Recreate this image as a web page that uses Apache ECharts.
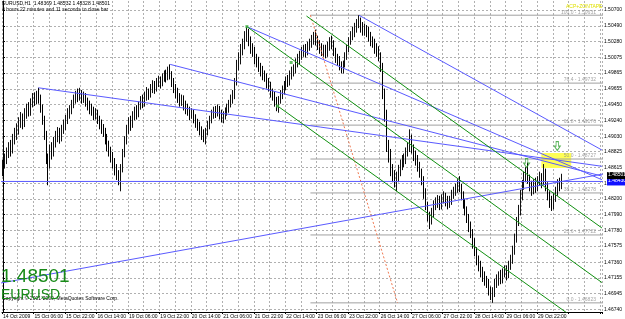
<!DOCTYPE html>
<html><head><meta charset="utf-8">
<script src="https://cdn.jsdelivr.net/npm/echarts@6/dist/echarts.min.js"></script>
<style>html,body{margin:0;padding:0;background:#fff}#c{width:625px;height:319px}</style>
</head><body><div id="c"></div><script>
const timeLabels = ['14 Oct 2009','15 Oct 06:00','15 Oct 22:00','16 Oct 14:00','19 Oct 06:00','19 Oct 22:00','20 Oct 14:00','21 Oct 06:00','21 Oct 22:00','22 Oct 14:00','23 Oct 06:00','23 Oct 22:00','26 Oct 14:00','27 Oct 06:00','27 Oct 22:00','28 Oct 14:00','29 Oct 06:00','29 Oct 22:00'];
const priceTicks = [1.50700,1.50490,1.50280,1.50075,1.49865,1.49655,1.49450,1.49240,1.49030,1.48825,1.48615,1.48405,1.48200,1.47990,1.47780,1.47575,1.47360,1.47155,1.46945,1.46740];
// [open, close, low, high] per H1 bar
const ohlc = [
[1.4858,1.4866,1.4850,1.4872],[1.4866,1.4872,1.4860,1.4880],[1.4872,1.4880,1.4866,1.4888],[1.4880,1.4889,1.4874,1.4895],
[1.4889,1.4884,1.4876,1.4898],[1.4884,1.4899,1.4880,1.4906],[1.4899,1.4906,1.4892,1.4914],[1.4906,1.4912,1.4898,1.4920],
[1.4912,1.4921,1.4905,1.4928],[1.4921,1.4927,1.4914,1.4935],[1.4927,1.4920,1.4912,1.4933],[1.4920,1.4934,1.4915,1.4940],
[1.4934,1.4940,1.4926,1.4946],[1.4940,1.4936,1.4929,1.4948],[1.4936,1.4948,1.4930,1.4953],[1.4948,1.4954,1.4941,1.4960],
[1.4954,1.4950,1.4943,1.4961],[1.4950,1.4958,1.4945,1.4963],[1.4958,1.4952,1.4946,1.4967],[1.4952,1.4940,1.4934,1.4958],
[1.4940,1.4925,1.4918,1.4945],[1.4925,1.4905,1.4898,1.4930],[1.4905,1.4875,1.4866,1.4910],[1.4875,1.4868,1.4838,1.4880],
[1.4868,1.4885,1.4860,1.4892],[1.4885,1.4880,1.4872,1.4895],[1.4880,1.4896,1.4876,1.4902],[1.4896,1.4902,1.4888,1.4910],
[1.4902,1.4908,1.4895,1.4915],[1.4908,1.4900,1.4893,1.4914],[1.4900,1.4912,1.4896,1.4918],[1.4912,1.4918,1.4906,1.4925],
[1.4918,1.4926,1.4911,1.4931],[1.4926,1.4933,1.4919,1.4940],[1.4933,1.4938,1.4926,1.4944],[1.4938,1.4946,1.4932,1.4951],
[1.4946,1.4952,1.4940,1.4958],[1.4952,1.4958,1.4946,1.4963],[1.4958,1.4955,1.4948,1.4966],[1.4955,1.4960,1.4950,1.4967],
[1.4960,1.4953,1.4946,1.4964],[1.4953,1.4956,1.4947,1.4962],[1.4956,1.4949,1.4942,1.4960],[1.4949,1.4944,1.4937,1.4954],
[1.4944,1.4940,1.4932,1.4950],[1.4940,1.4937,1.4930,1.4946],[1.4937,1.4931,1.4924,1.4942],[1.4931,1.4934,1.4925,1.4940],
[1.4934,1.4926,1.4919,1.4938],[1.4926,1.4920,1.4912,1.4930],[1.4920,1.4914,1.4906,1.4925],[1.4914,1.4910,1.4902,1.4919],
[1.4910,1.4900,1.4892,1.4914],[1.4900,1.4891,1.4883,1.4906],[1.4891,1.4884,1.4876,1.4897],[1.4884,1.4876,1.4868,1.4889],
[1.4876,1.4868,1.4860,1.4882],[1.4868,1.4860,1.4851,1.4874],[1.4860,1.4852,1.4845,1.4866],[1.4852,1.4848,1.4838,1.4858],
[1.4848,1.4860,1.4830,1.4866],[1.4860,1.4880,1.4855,1.4886],[1.4880,1.4898,1.4875,1.4903],[1.4898,1.4912,1.4892,1.4918],
[1.4912,1.4922,1.4906,1.4928],[1.4922,1.4918,1.4910,1.4930],[1.4918,1.4930,1.4914,1.4936],[1.4930,1.4936,1.4924,1.4942],
[1.4936,1.4932,1.4925,1.4944],[1.4932,1.4944,1.4928,1.4949],[1.4944,1.4950,1.4938,1.4956],[1.4950,1.4946,1.4940,1.4958],
[1.4946,1.4956,1.4942,1.4962],[1.4956,1.4961,1.4950,1.4968],[1.4961,1.4958,1.4951,1.4966],[1.4958,1.4966,1.4954,1.4972],
[1.4966,1.4970,1.4960,1.4977],[1.4970,1.4966,1.4959,1.4976],[1.4966,1.4974,1.4962,1.4980],[1.4974,1.4977,1.4968,1.4983],
[1.4977,1.4973,1.4966,1.4982],[1.4973,1.4980,1.4969,1.4986],[1.4980,1.4984,1.4975,1.4990],[1.4984,1.4981,1.4974,1.4991],
[1.4981,1.4988,1.4977,1.4995],[1.4988,1.4984,1.4978,1.4998],[1.4984,1.4975,1.4968,1.4989],[1.4975,1.4968,1.4960,1.4980],
[1.4968,1.4962,1.4953,1.4972],[1.4962,1.4955,1.4947,1.4967],[1.4955,1.4950,1.4942,1.4960],[1.4950,1.4952,1.4943,1.4958],
[1.4952,1.4944,1.4937,1.4957],[1.4944,1.4940,1.4932,1.4950],[1.4940,1.4937,1.4930,1.4946],[1.4937,1.4932,1.4924,1.4942],
[1.4932,1.4934,1.4926,1.4940],[1.4934,1.4928,1.4920,1.4938],[1.4928,1.4922,1.4914,1.4932],[1.4922,1.4918,1.4910,1.4926],
[1.4918,1.4912,1.4904,1.4922],[1.4912,1.4906,1.4898,1.4916],[1.4906,1.4903,1.4895,1.4912],[1.4903,1.4910,1.4892,1.4914],
[1.4910,1.4918,1.4904,1.4923],[1.4918,1.4925,1.4912,1.4930],[1.4925,1.4932,1.4920,1.4938],[1.4932,1.4936,1.4926,1.4942],
[1.4936,1.4934,1.4927,1.4943],[1.4934,1.4938,1.4929,1.4945],[1.4938,1.4932,1.4925,1.4943],[1.4932,1.4928,1.4921,1.4938],
[1.4928,1.4930,1.4920,1.4936],[1.4930,1.4936,1.4925,1.4941],[1.4936,1.4940,1.4930,1.4946],[1.4940,1.4946,1.4934,1.4951],
[1.4946,1.4952,1.4941,1.4958],[1.4952,1.4958,1.4946,1.4964],[1.4958,1.4975,1.4952,1.4980],[1.4975,1.4998,1.4970,1.5004],
[1.4998,1.5005,1.4990,1.5014],[1.5005,1.5018,1.4998,1.5025],[1.5018,1.5024,1.5010,1.5032],[1.5024,1.5036,1.5018,1.5042],
[1.5036,1.5040,1.5028,1.5048],[1.5040,1.5030,1.5022,1.5045],[1.5030,1.5022,1.5012,1.5035],[1.5022,1.5016,1.5008,1.5026],
[1.5016,1.5008,1.4998,1.5021],[1.5008,1.5002,1.4994,1.5012],[1.5002,1.4996,1.4988,1.5008],[1.4996,1.4990,1.4982,1.5000],
[1.4990,1.4985,1.4977,1.4996],[1.4985,1.4982,1.4975,1.4990],[1.4982,1.4974,1.4966,1.4986],[1.4974,1.4970,1.4962,1.4980],
[1.4970,1.4962,1.4954,1.4975],[1.4962,1.4958,1.4950,1.4966],[1.4958,1.4950,1.4942,1.4962],[1.4950,1.4946,1.4936,1.4955],
[1.4946,1.4952,1.4934,1.4956],[1.4952,1.4958,1.4946,1.4964],[1.4958,1.4964,1.4952,1.4970],[1.4964,1.4970,1.4958,1.4976],
[1.4970,1.4977,1.4964,1.4982],[1.4977,1.4974,1.4968,1.4984],[1.4974,1.4984,1.4970,1.4990],[1.4984,1.4988,1.4978,1.4995],
[1.4988,1.4992,1.4982,1.4998],[1.4992,1.5000,1.4986,1.5006],[1.5000,1.5005,1.4994,1.5012],[1.5005,1.5010,1.4998,1.5016],
[1.5010,1.5014,1.5004,1.5021],[1.5014,1.5018,1.5008,1.5024],[1.5018,1.5014,1.5007,1.5025],[1.5014,1.5022,1.5010,1.5028],
[1.5022,1.5026,1.5016,1.5032],[1.5026,1.5030,1.5020,1.5037],[1.5030,1.5034,1.5024,1.5041],[1.5034,1.5030,1.5023,1.5044],
[1.5030,1.5024,1.5017,1.5036],[1.5024,1.5020,1.5012,1.5030],[1.5020,1.5016,1.5009,1.5026],[1.5016,1.5018,1.5008,1.5024],
[1.5018,1.5014,1.5006,1.5024],[1.5014,1.5022,1.5008,1.5028],[1.5022,1.5028,1.5016,1.5034],[1.5028,1.5026,1.5018,1.5036],
[1.5026,1.5016,1.5009,1.5030],[1.5016,1.5008,1.5000,1.5020],[1.5008,1.5004,1.4996,1.5012],[1.5004,1.4998,1.4990,1.5009],
[1.4998,1.4994,1.4986,1.5002],[1.4994,1.4998,1.4986,1.5003],[1.4998,1.5008,1.4994,1.5014],[1.5008,1.5018,1.5004,1.5024],
[1.5018,1.5028,1.5014,1.5034],[1.5028,1.5036,1.5024,1.5042],[1.5036,1.5040,1.5030,1.5048],[1.5040,1.5046,1.5034,1.5053],
[1.5046,1.5052,1.5040,1.5058],[1.5052,1.5055,1.5046,1.5063],[1.5055,1.5048,1.5040,1.5060],[1.5048,1.5044,1.5036,1.5054],
[1.5044,1.5046,1.5036,1.5052],[1.5046,1.5042,1.5034,1.5050],[1.5042,1.5036,1.5028,1.5048],[1.5036,1.5030,1.5022,1.5041],
[1.5030,1.5028,1.5020,1.5035],[1.5028,1.5020,1.5012,1.5032],[1.5020,1.5016,1.5008,1.5026],[1.5016,1.5010,1.5002,1.5022],
[1.5010,1.4995,1.4988,1.5014],[1.4995,1.4960,1.4952,1.5000],[1.4960,1.4932,1.4922,1.4966],[1.4932,1.4892,1.4882,1.4938],
[1.4892,1.4880,1.4868,1.4898],[1.4880,1.4860,1.4850,1.4886],[1.4860,1.4852,1.4842,1.4866],[1.4852,1.4845,1.4835,1.4858],
[1.4845,1.4850,1.4830,1.4856],[1.4850,1.4858,1.4842,1.4865],[1.4858,1.4866,1.4850,1.4872],[1.4866,1.4870,1.4858,1.4878],
[1.4870,1.4872,1.4862,1.4880],[1.4872,1.4882,1.4866,1.4888],[1.4882,1.4888,1.4876,1.4895],[1.4888,1.4896,1.4882,1.4912],
[1.4896,1.4886,1.4880,1.4905],[1.4886,1.4878,1.4870,1.4892],[1.4878,1.4872,1.4864,1.4884],[1.4872,1.4864,1.4856,1.4878],
[1.4864,1.4856,1.4848,1.4869],[1.4856,1.4845,1.4838,1.4860],[1.4845,1.4828,1.4820,1.4850],[1.4828,1.4812,1.4805,1.4834],
[1.4812,1.4798,1.4790,1.4816],[1.4798,1.4792,1.4780,1.4803],[1.4792,1.4802,1.4786,1.4808],[1.4802,1.4812,1.4796,1.4818],
[1.4812,1.4815,1.4805,1.4822],[1.4815,1.4818,1.4808,1.4825],[1.4818,1.4812,1.4805,1.4824],[1.4812,1.4820,1.4806,1.4826],
[1.4820,1.4824,1.4814,1.4830],[1.4824,1.4818,1.4810,1.4828],[1.4818,1.4814,1.4806,1.4824],[1.4814,1.4818,1.4808,1.4824],
[1.4818,1.4826,1.4812,1.4832],[1.4826,1.4830,1.4820,1.4836],[1.4830,1.4834,1.4824,1.4840],[1.4834,1.4840,1.4828,1.4846],
[1.4840,1.4836,1.4829,1.4850],[1.4836,1.4826,1.4818,1.4840],[1.4826,1.4815,1.4807,1.4830],[1.4815,1.4806,1.4798,1.4820],
[1.4806,1.4796,1.4788,1.4810],[1.4796,1.4784,1.4776,1.4800],[1.4784,1.4776,1.4768,1.4790],[1.4776,1.4762,1.4754,1.4780],
[1.4762,1.4752,1.4744,1.4768],[1.4752,1.4740,1.4732,1.4756],[1.4740,1.4734,1.4724,1.4745],[1.4734,1.4725,1.4716,1.4738],
[1.4725,1.4718,1.4710,1.4730],[1.4718,1.4714,1.4705,1.4724],[1.4714,1.4710,1.4702,1.4718],[1.4710,1.4700,1.4692,1.4714],
[1.4700,1.4694,1.4686,1.4704],[1.4694,1.4698,1.46823,1.4703],[1.4698,1.4708,1.4690,1.4714],[1.4708,1.4712,1.4702,1.4720],
[1.4712,1.4718,1.4705,1.4724],[1.4718,1.4714,1.4707,1.4726],[1.4714,1.4722,1.4708,1.4728],[1.4722,1.4726,1.4716,1.4732],
[1.4726,1.4720,1.4712,1.4732],[1.4720,1.4732,1.4715,1.4738],[1.4732,1.4740,1.4726,1.4746],[1.4740,1.4752,1.4734,1.4758],
[1.4752,1.4768,1.4746,1.4774],[1.4768,1.4790,1.4762,1.4796],[1.4790,1.4805,1.4784,1.4812],[1.4805,1.4825,1.4798,1.4832],
[1.4825,1.4838,1.4818,1.4845],[1.4838,1.4850,1.4832,1.4856],[1.4850,1.4856,1.4842,1.4862],[1.4856,1.4848,1.4840,1.4868],
[1.4848,1.4838,1.4830,1.4852],[1.4838,1.4832,1.4824,1.4844],[1.4832,1.4840,1.4826,1.4846],[1.4840,1.4836,1.4828,1.4848],
[1.4836,1.4844,1.4830,1.4850],[1.4844,1.4848,1.4838,1.4856],[1.4848,1.4842,1.4834,1.4854],[1.4842,1.4852,1.4838,1.4866],
[1.4852,1.4838,1.4830,1.4860],[1.4838,1.4826,1.4818,1.4842],[1.4826,1.4818,1.4808,1.4830],[1.4818,1.4812,1.4804,1.4824],
[1.4812,1.4824,1.4806,1.4828],[1.4824,1.4830,1.4816,1.4836],[1.4830,1.4840,1.4824,1.4846],[1.4840,1.4837,1.4830,1.4848],
[1.48369,1.48501,1.48328,1.48532]
];
const barCount = 305;
const lastPrice = 1.48501;
const hLinePrice = 1.48430;
// trend lines as [[bar, price],[bar, price]]
const blueLines = [
  [[-1, 1.47086],[305, 1.48529]],
  [[-1, hLinePrice],[305, hLinePrice]],
  [[18, 1.4967],[304.5, 1.48631]],
  [[85, 1.4998],[304.5, 1.48501]],
  [[124, 1.5048],[304.5, 1.48453]],
  [[181, 1.5063],[304.5, 1.48846]]
];
const greenLines = [
  [[154.3, 1.50620],[304.5, 1.47814]],
  [[124, 1.5048],[304.5, 1.47092]],
  [[139.6, 1.49429],[304.5, 1.46358]]
];
const greenPoints = [[124, 1.5048],[146.5, 1.50005],[139.6, 1.49429]];
const fibLevels = ['100.0','76.4','61.8','50.0','38.2','23.6','0.0'];
const fibPrices = [1.50631,1.49732,1.49176,1.48727,1.48278,1.47722,1.46823];
const fibStart = 156.3, fibEnd = 305;
const fibDiagonal = [[156.3, 1.50631],[200.6, 1.46823]];
const zoneBox = [[273.7, 1.48807],[288.9, 1.48608]];
const arrows = [[266.2, 1.48674],[281.8, 1.48899]];
const headerText = ['EURUSD,H1  1.48369 1.48532 1.48328 1.48501', '0 hours 22 minutes and 11 seconds to close bar'];

const FONT = 'Liberation Sans';
const categories = Array.from({length: barCount}, (_, i) => String(i));
const series = [];
series.push({
  type: 'candlestick', xAxisIndex: 0, yAxisIndex: 0, data: ohlc, barMaxWidth: 2,
  itemStyle: {color: '#9a9a9a', color0: '#000000', borderColor: '#111111', borderColor0: '#000000', borderWidth: 1},
  z: 3
});
// yellow zone
series.push({type: 'line', xAxisIndex: 1, data: [], silent: true,
  markArea: {silent: true, itemStyle: {color: '#ffff55'}, data: [[{coord: zoneBox[0]}, {coord: zoneBox[1]}]]}, z: 1});
fibPrices.forEach((p, i) => {
  series.push({type: 'line', xAxisIndex: 1, data: [[fibStart, p],[fibEnd, p]], symbol: 'none',
    lineStyle: {color: '#a0a0a0', width: 1}, silent: true, z: 2});
});
series.push({type: 'scatter', xAxisIndex: 1, symbolSize: 0, silent: true, z: 6,
  data: fibPrices.map((p, i) => ({value: [304, p], name: fibLevels[i] + ' - ' + p.toFixed(5)})),
  label: {show: true, position: 'left', offset: [0, -3], formatter: d => d.name, fontSize: 5, color: '#8c8c8c', fontFamily: FONT}});
series.push({type: 'line', xAxisIndex: 1, data: fibDiagonal, symbol: 'none',
  lineStyle: {color: '#f07850', width: 1, type: [2, 2]}, silent: true, z: 4});
blueLines.forEach(l => series.push({type: 'line', xAxisIndex: 1, data: l, symbol: 'none',
  lineStyle: {color: '#5a5aff', width: 1}, silent: true, z: 5}));
greenLines.forEach(l => series.push({type: 'line', xAxisIndex: 1, data: l, symbol: 'none',
  lineStyle: {color: '#109010', width: 1}, silent: true, z: 5}));
series.push({type: 'scatter', xAxisIndex: 1, data: greenPoints, symbol: 'rect', symbolSize: 3,
  itemStyle: {color: '#40b040'}, silent: true, z: 6});
series.push({type: 'scatter', xAxisIndex: 1, data: arrows, symbol: 'path://M3,0 L7,0 L7,6 L10,6 L5,12 L0,6 L3,6 Z',
  symbolSize: [6, 9], itemStyle: {color: 'rgba(0,0,0,0)', borderColor: '#30a030', borderWidth: 1}, silent: true, z: 7});

const option = {
  animation: false,
  backgroundColor: '#ffffff',
  textStyle: {fontFamily: FONT},
  grid: {left: 1, right: 19, top: 1, bottom: 7},
  xAxis: [{
    type: 'category', data: categories, boundaryGap: true,
    axisLine: {show: true, lineStyle: {color: '#000', width: 1}},
    axisTick: {show: true, length: 2, interval: i => i % 16 === 0, lineStyle: {color: '#000'}},
    axisLabel: {interval: i => i % 16 === 0, formatter: (v, i) => timeLabels[i / 16] || '', align: 'left',
      fontSize: 5, color: '#000', margin: 2, fontFamily: FONT},
    splitLine: {show: true, interval: i => i % 8 === 0, lineStyle: {color: '#b0b0b0', type: [2, 2], width: 1}}
  }, {
    type: 'value', min: -0.5, max: barCount - 0.5, show: false
  }],
  yAxis: {
    type: 'value', position: 'right', min: 1.46702, max: 1.50819,
    axisLine: {show: true, lineStyle: {color: '#000', width: 1}},
    axisTick: {show: true, length: 2, customValues: priceTicks, lineStyle: {color: '#000'}},
    axisLabel: {customValues: priceTicks, formatter: v => v.toFixed(5), fontSize: 5, color: '#000', margin: 2, fontFamily: FONT},
    splitLine: {show: true, lineStyle: {color: '#b0b0b0', type: [2, 2], width: 1}}
  },
  series: series
};
const chart = echarts.init(document.getElementById('c'));
chart.setOption(option);

const yCur = chart.convertToPixel({yAxisIndex: 0}, lastPrice);
const yH = chart.convertToPixel({yAxisIndex: 0}, hLinePrice);
chart.setOption({graphic: [
  {type: 'text', left: 2, top: 1, style: {text: headerText[0], fontSize: 5, fill: '#000', fontFamily: FONT}, z: 20},
  {type: 'text', left: 2, top: 7, style: {text: headerText[1], fontSize: 5, fill: '#000', fontFamily: FONT}, z: 20},
  {type: 'text', left: 566, top: 4, style: {text: 'ACP+ZONTAPE', fontSize: 5, fill: '#e0e000', fontFamily: FONT}, z: 20},
  {type: 'text', left: 2, top: 296, style: {text: 'Copyright © 2001-2009, MetaQuotes Software Corp.', fontSize: 5, fill: '#000', fontFamily: FONT}, z: 20},
  {type: 'text', left: 1, top: 267, style: {text: lastPrice.toFixed(5), fontSize: 19, fill: '#188a18', fontFamily: FONT}, z: 21},
  {type: 'text', left: 1, top: 288, style: {text: 'EURUSD', fontSize: 14, fill: '#188a18', fontFamily: FONT}, z: 21},
  {type: 'rect', shape: {x: 607, y: yH - 3, width: 18, height: 7}, style: {fill: '#1010ff'}, z: 30},
  {type: 'text', x: 608, y: yH - 3, style: {text: hLinePrice.toFixed(5), fontSize: 5, fill: '#fff', fontFamily: FONT}, z: 31},
  {type: 'rect', shape: {x: 607, y: yCur - 4, width: 18, height: 7}, style: {fill: '#000'}, z: 32},
  {type: 'text', x: 608, y: yCur - 4, style: {text: lastPrice.toFixed(5), fontSize: 5, fill: '#fff', fontFamily: FONT}, z: 33}
]});
</script></body></html>
